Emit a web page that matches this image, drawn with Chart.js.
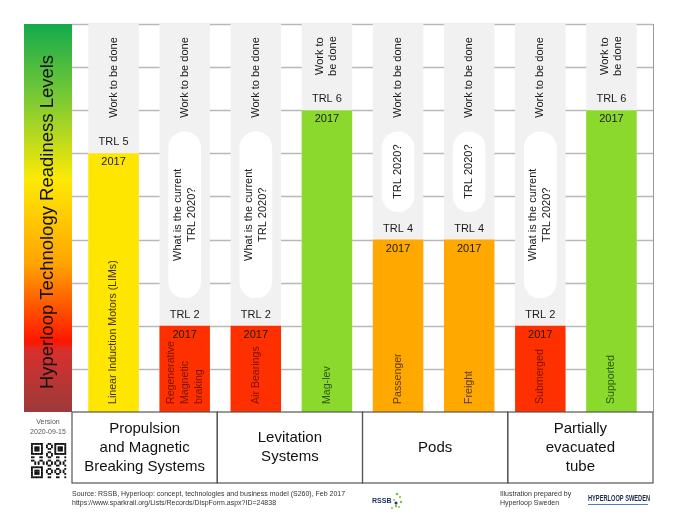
<!DOCTYPE html>
<html>
<head>
<meta charset="utf-8">
<script src="https://cdn.jsdelivr.net/npm/chart.js@4/dist/chart.umd.min.js"></script>
<style>
  body { margin: 0; background: #fff; }
  canvas { display: block; }
</style>
</head>
<body>
<canvas id="trlChart" width="680" height="522"></canvas>
<script>
// Chart data
const categories = ['Linear Induction Motors (LIMs)', 'Regenerative Magnetic braking', 'Air Bearings', 'Mag-lev',
                    'Passenger', 'Freight', 'Submerged', 'Supported'];
const categoryLines = [['Linear Induction Motors (LIMs)'], ['Regenerative', 'Magnetic', 'braking'], ['Air Bearings'],
                       ['Mag-lev'], ['Passenger'], ['Freight'], ['Submerged'], ['Supported']];
const barLevels = [6, 2, 2, 7, 4, 4, 2, 7];       // bar heights as drawn
const trlLabels = ['TRL 5', 'TRL 2', 'TRL 2', 'TRL 6', 'TRL 4', 'TRL 4', 'TRL 2', 'TRL 6'];
const yearLabel = '2017';
const questionText = [null, ['What is the current', 'TRL 2020?'], ['What is the current', 'TRL 2020?'], null,
                      ['TRL 2020?'], ['TRL 2020?'], ['What is the current', 'TRL 2020?'], null];
const groupNames = [['Propulsion', 'and Magnetic', 'Breaking Systems'], ['Levitation', 'Systems'], ['Pods'],
                    ['Partially', 'evacuated', 'tube']];
const groupSpans = [2, 2, 2, 2];
const maxLevel = 9;
const yTicks = [1, 2, 3, 4, 5, 6, 7, 8, 9];

const FONT = '"Liberation Sans", Arial, sans-serif';

function barColor(label) {
    if (label === 'TRL 2') return '#ff3000';
    if (label === 'TRL 4') return '#ffa800';
    if (label === 'TRL 5') return '#ffe600';
    return '#8ad92c';
}
function labelColor(label) {
    if (label === 'TRL 2') return '#7a1400';
    if (label === 'TRL 4') return '#5e3b00';
    if (label === 'TRL 5') return '#3a3500';
    return '#2b5a08';
}

// rotated multi-line text, lines stacked left to right
function rotatedText(ctx, lines, x, y, lineGap, align) {
    ctx.save();
    ctx.translate(x, y);
    ctx.rotate(-Math.PI / 2);
    ctx.textAlign = align;
    ctx.textBaseline = 'middle';
    const off = (lines.length - 1) / 2;
    lines.forEach((ln, k) => ctx.fillText(ln, 0, (k - off) * lineGap));
    ctx.restore();
}

const decorPlugin = {
    id: 'decor',
    beforeDatasetsDraw(chart) {
        const ctx = chart.ctx;
        const area = chart.chartArea;
        const y = chart.scales.y;
        const left = area.left - 6, right = area.right + 6;

        // gradient readiness bar
        const g = ctx.createLinearGradient(0, area.top, 0, area.bottom);
        g.addColorStop(0, '#14ab4c');
        g.addColorStop(0.2, '#7fcb33');
        g.addColorStop(0.4, '#fdea05');
        g.addColorStop(0.62, '#ffa300');
        g.addColorStop(0.82, '#ff1500');
        g.addColorStop(0.84, '#d8302c');
        g.addColorStop(1, '#9c3a3a');
        ctx.fillStyle = g;
        ctx.fillRect(left - 48, area.top, 48, area.bottom - area.top);

        // grid lines
        ctx.strokeStyle = '#b8b8b8';
        ctx.lineWidth = 1.5;
        yTicks.forEach(t => {
            const py = Math.round(y.getPixelForValue(t)) + 0.5;
            ctx.beginPath();
            ctx.moveTo(left, py);
            ctx.lineTo(right, py);
            ctx.stroke();
        });
        ctx.strokeStyle = '#999';
        ctx.lineWidth = 1;
        ctx.beginPath();
        ctx.moveTo(right + 0.5, area.top);
        ctx.lineTo(right + 0.5, area.bottom);
        ctx.stroke();
    },
    afterDatasetsDraw(chart) {
        const ctx = chart.ctx;
        const area = chart.chartArea;
        const meta = chart.getDatasetMeta(2);
        const pillMeta = chart.getDatasetMeta(1);
        const left = area.left - 6, right = area.right + 6;

        meta.data.forEach((bar, i) => {
            const x = bar.x, top = bar.y;
            ctx.fillStyle = '#1a1a1a';
            ctx.font = '11px ' + FONT;
            ctx.textAlign = 'center';
            ctx.textBaseline = 'middle';
            ctx.fillText(trlLabels[i], x, top - 11);
            ctx.fillText(yearLabel, x, top + 9);

            // work to be done
            const bottomFree = Math.min(top - 22, area.top + 107);
            const space = bottomFree - area.top;
            const work = space < 85 ? ['Work to', 'be done'] : ['Work to be done'];
            rotatedText(ctx, work, x, (area.top + bottomFree) / 2, 13, 'center');

            // question pill text
            if (questionText[i]) {
                const p = pillMeta.data[i];
                rotatedText(ctx, questionText[i], x, (p.y + p.base) / 2, 14, 'center');
            }

            // category label inside the bar
            ctx.fillStyle = labelColor(trlLabels[i]);
            ctx.font = '10.6px ' + FONT;
            rotatedText(ctx, categoryLines[i], x, area.bottom - 8, 14, 'left');
        });

        // title
        ctx.fillStyle = '#111';
        ctx.font = '18.5px ' + FONT;
        rotatedText(ctx, ['Hyperloop Technology Readiness Levels'], left - 24, (area.top + area.bottom) / 2 + 4, 0, 'center');

        // group boxes
        const total = groupSpans.reduce((a, b) => a + b, 0);
        const w = (right - left) / total;
        let gx = left;
        ctx.font = '15px ' + FONT;
        groupNames.forEach((lines, k) => {
            const gw = w * groupSpans[k];
            ctx.strokeStyle = '#555';
            ctx.lineWidth = 1.2;
            ctx.strokeRect(gx, area.bottom, gw, 71);
            ctx.fillStyle = '#111';
            ctx.textAlign = 'center';
            ctx.textBaseline = 'middle';
            const off = (lines.length - 1) / 2;
            lines.forEach((ln, j) => ctx.fillText(ln, gx + gw / 2, area.bottom + 35.5 + (j - off) * 19));
            gx += gw;
        });

        // version + qr
        ctx.fillStyle = '#555';
        ctx.font = '7px ' + FONT;
        ctx.fillText('Version', left - 24, area.bottom + 10);
        ctx.fillText('2020-09-15', left - 24, area.bottom + 20);
        drawQR(ctx, left - 41, area.bottom + 31, 35);

        // footer
        ctx.fillStyle = '#333';
        ctx.textAlign = 'left';
        ctx.font = '7px ' + FONT;
        ctx.fillText('Source: RSSB, Hyperloop: concept, technologies and business model (S260), Feb 2017', left, 494);
        ctx.fillText('https://www.sparkrail.org/Lists/Records/DispForm.aspx?ID=24838', left, 503);
        ctx.fillText('Illustration prepared by', 500, 494);
        ctx.fillText('Hyperloop Sweden', 500, 503);

        // RSSB logo
        ctx.fillStyle = '#1f3566';
        ctx.font = 'bold 7px ' + FONT;
        ctx.fillText('RSSB', 372, 501);
        ctx.fillStyle = '#7cc242';
        [[397, 494, 1.3], [400, 497, 1.1], [401, 502, 1.2], [394, 500, 1], [396, 506, 1.2], [392, 508, 1], [399, 507, 1]].forEach(d => {
            ctx.beginPath(); ctx.arc(d[0], d[1], d[2], 0, Math.PI * 2); ctx.fill();
        });
        ctx.fillStyle = '#1f3566';
        ctx.beginPath(); ctx.arc(396, 503, 1.5, 0, Math.PI * 2); ctx.fill();

        // Hyperloop Sweden logo
        ctx.save();
        ctx.font = 'bold 9px ' + FONT;
        const lw = ctx.measureText('HYPERLOOP SWEDEN').width;
        ctx.translate(588, 499);
        ctx.scale(62 / lw, 1);
        ctx.fillStyle = '#1a2a44';
        ctx.fillText('HYPERLOOP SWEDEN', 0, 0);
        ctx.restore();
        ctx.fillStyle = '#4a7fc0';
        ctx.fillRect(588, 504, 60, 1);
    }
};

function drawQR(ctx, x, y, size) {
    const n = 21, m = size / n;
    ctx.fillStyle = '#111';
    for (let r = 0; r < n; r++) {
        for (let c = 0; c < n; c++) {
            const inFinder = (r < 8 && c < 8) || (r < 8 && c >= n - 8) || (r >= n - 8 && c < 8);
            let on;
            if (inFinder) {
                const rr = r >= n - 8 ? r - (n - 7) : r;
                const cc = c >= n - 8 ? c - (n - 7) : c;
                if (rr < 0 || cc < 0 || rr > 6 || cc > 6) on = false;
                else on = rr === 0 || rr === 6 || cc === 0 || cc === 6 || (rr >= 2 && rr <= 4 && cc >= 2 && cc <= 4);
            } else {
                on = ((r * 7 + c * 11 + r * c) % 5) < 2;
            }
            if (on) ctx.fillRect(x + c * m, y + r * m, m + 0.2, m + 0.2);
        }
    }
}

const pillRanges = questionText.map((q, i) => q ? [barLevels[i] + 0.65, 6.5] : null);

new Chart(document.getElementById('trlChart'), {
    type: 'bar',
    data: {
        labels: categories,
        datasets: [
            {
                label: 'Work to be done',
                data: categories.map(() => maxLevel),
                backgroundColor: '#f1f1f1',
                grouped: false,
                order: 3,
                barPercentage: 0.71,
                categoryPercentage: 1
            },
            {
                label: 'TRL 2020',
                data: pillRanges,
                backgroundColor: '#ffffff',
                grouped: false,
                order: 2,
                barThickness: 32,
                borderRadius: 16,
                borderSkipped: false
            },
            {
                label: 'TRL 2017',
                data: barLevels,
                backgroundColor: trlLabels.map(barColor),
                grouped: false,
                order: 1,
                barPercentage: 0.71,
                categoryPercentage: 1
            }
        ]
    },
    options: {
        responsive: false,
        animation: false,
        devicePixelRatio: 1,
        layout: { padding: { left: 78, right: 33, top: 24, bottom: 110 } },
        scales: {
            x: { display: false },
            y: { display: false, min: 0, max: maxLevel }
        },
        plugins: {
            legend: { display: false },
            tooltip: { enabled: false }
        }
    },
    plugins: [decorPlugin]
});
</script>
</body>
</html>
